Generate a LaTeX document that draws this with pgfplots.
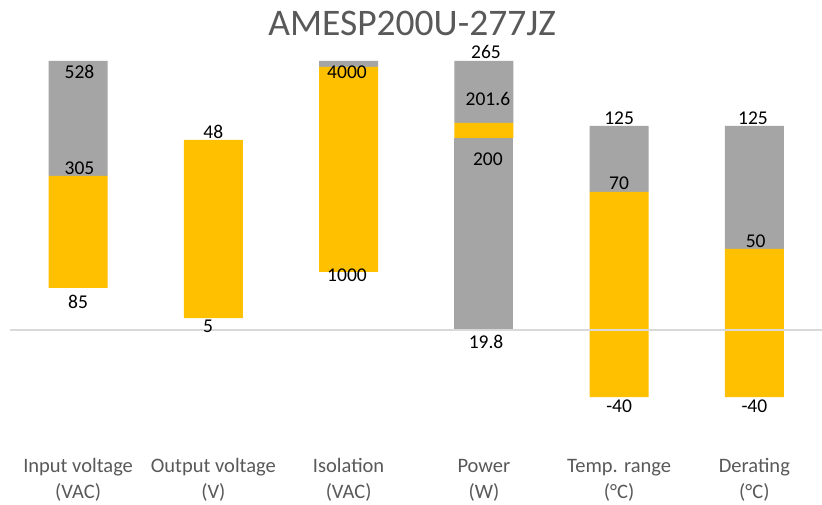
\documentclass[border=0pt]{standalone}
\usepackage{pgfplots}
\pgfplotsset{compat=1.18}
\usepackage{fontspec}
\setmainfont{Carlito}
\definecolor{bargray}{HTML}{A5A5A5}
\definecolor{baryellow}{HTML}{FFC000}
\definecolor{txtgray}{HTML}{595959}
\definecolor{linegray}{HTML}{D9D9D9}
\begin{document}
\begin{tikzpicture}[
  lbl/.style={font=\fontsize{19.5}{21}\selectfont, text=black, inner sep=0pt},
  cat/.style={font=\fontsize{20.5}{22}\selectfont, text=txtgray, anchor=base, inner sep=0pt},
]
\useasboundingbox[fill=white] (0,0) rectangle (822pt,504pt);
\begin{axis}[
  at={(0,0)}, anchor=south west,
  scale only axis, width=822pt, height=504pt,
  xmin=-0.5776, xmax=5.5, ymin=-74, ymax=430,
  hide axis,
  ybar stacked, bar width=59pt,
  clip=false,
]
% bar segments in pixel-height units; baseline at 100
\addplot[draw=none, fill=none] coordinates {(0,142) (1,112) (2,158) (3,100) (4,33) (5,33)};
\addplot[draw=none, fill=bargray] coordinates {(0,0) (1,0) (2,0) (3,192) (4,0) (5,0)};
\addplot[draw=none, fill=baryellow] coordinates {(0,112) (1,178) (2,205) (3,15) (4,205) (5,148)};
\addplot[draw=none, fill=bargray] coordinates {(0,115) (1,0) (2,6) (3,62) (4,66) (5,123)};
\coordinate (bl) at (axis cs:-0.5,100);
\coordinate (br) at (axis cs:5.5,100);
\coordinate (ti) at (axis cs:2.469,394);
\coordinate (d1) at (axis cs:0.01,358);
\coordinate (d2) at (axis cs:0.01,262);
\coordinate (d3) at (axis cs:0.0,128);
\coordinate (d4) at (axis cs:1.0,298);
\coordinate (d5) at (axis cs:0.96,104);
\coordinate (d6) at (axis cs:1.988,358);
\coordinate (d7) at (axis cs:1.988,155);
\coordinate (d8) at (axis cs:3.016,378);
\coordinate (d9) at (axis cs:3.03,331);
\coordinate (d10) at (axis cs:3.03,271);
\coordinate (d11) at (axis cs:3.016,88);
\coordinate (d12) at (axis cs:4.0,312);
\coordinate (d13) at (axis cs:4.0,247);
\coordinate (d14) at (axis cs:4.0,24);
\coordinate (d15) at (axis cs:4.99,312);
\coordinate (d16) at (axis cs:5.01,189);
\coordinate (d17) at (axis cs:5.0,24);
\coordinate (c0a) at (axis cs:0,-42);
\coordinate (c0b) at (axis cs:0,-68);
\coordinate (c1a) at (axis cs:1,-42);
\coordinate (c1b) at (axis cs:1,-68);
\coordinate (c2a) at (axis cs:2,-42);
\coordinate (c2b) at (axis cs:2,-68);
\coordinate (c3a) at (axis cs:3,-42);
\coordinate (c3b) at (axis cs:3,-68);
\coordinate (c4a) at (axis cs:4,-42);
\coordinate (c4b) at (axis cs:4,-68);
\coordinate (c5a) at (axis cs:5,-42);
\coordinate (c5b) at (axis cs:5,-68);
\end{axis}
\draw[linegray, line width=1.5pt] (bl) -- (br);
\node[text=txtgray, font=\fontsize{37.5}{40}\selectfont, anchor=base, inner sep=0pt] at (ti) {AMESP200U-277JZ};
\node[lbl] at (d1) {528};
\node[lbl] at (d2) {305};
\node[lbl] at (d3) {85};
\node[lbl] at (d4) {48};
\node[lbl] at (d5) {5};
\node[lbl] at (d6) {4000};
\node[lbl] at (d7) {1000};
\node[lbl] at (d8) {265};
\node[lbl] at (d9) {201.6};
\node[lbl] at (d10) {200};
\node[lbl] at (d11) {19.8};
\node[lbl] at (d12) {125};
\node[lbl] at (d13) {70};
\node[lbl] at (d14) {-40};
\node[lbl] at (d15) {125};
\node[lbl] at (d16) {50};
\node[lbl] at (d17) {-40};
\node[cat] at (c0a) {Input voltage};
\node[cat] at (c0b) {(VAC)};
\node[cat] at (c1a) {Output voltage};
\node[cat] at (c1b) {(V)};
\node[cat] at (c2a) {Isolation};
\node[cat] at (c2b) {(VAC)};
\node[cat] at (c3a) {Power};
\node[cat] at (c3b) {(W)};
\node[cat] at (c4a) {Temp. range};
\node[cat] at (c4b) {(°C)};
\node[cat] at (c5a) {Derating};
\node[cat] at (c5b) {(°C)};
\end{tikzpicture}
\end{document}
